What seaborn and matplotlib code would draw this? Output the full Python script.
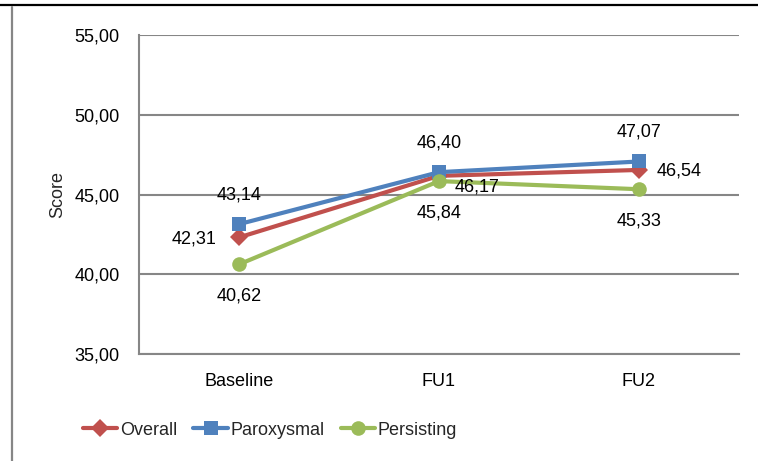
import matplotlib
matplotlib.use("Agg")
import matplotlib.pyplot as plt
from matplotlib.lines import Line2D
import seaborn as sns
import pandas as pd

# Scores per visit for each patient group
visits = ["Baseline", "FU1", "FU2"]
overall = [42.31, 46.17, 46.54]
paroxysmal = [43.14, 46.40, 47.07]
persisting = [40.62, 45.84, 45.33]
y_ticks = [35, 40, 45, 50, 55]

sns.set_theme(style="white")
plt.rcParams["font.family"] = ["Liberation Sans", "DejaVu Sans"]
FS = 13

fig = plt.figure(figsize=(7.58, 4.61), dpi=100)
ax = fig.add_axes([139 / 758, 1 - 354 / 461, 600 / 758, 319 / 461])

frames = []
for name, vals in [("Overall", overall), ("Paroxysmal", paroxysmal), ("Persisting", persisting)]:
    frames.append(pd.DataFrame({"Visit": visits, "Score": vals, "Group": name}))
df = pd.concat(frames, ignore_index=True)

styles = {
    "Overall": dict(color="#C0504D", marker="D", ms=9.5),
    "Paroxysmal": dict(color="#4F81BD", marker="s", ms=10),
    "Persisting": dict(color="#9BBB59", marker="o", ms=10.5),
}

def fmt(v):
    return f"{v:.2f}".replace(".", ",")

for name, st in styles.items():
    sub = df[df["Group"] == name]
    sns.lineplot(data=sub, x="Visit", y="Score", ax=ax, color=st["color"],
                 marker=st["marker"], markersize=st["ms"], markeredgewidth=0,
                 linewidth=3, label=name, legend=False, sort=False)

# Value labels: Paroxysmal above, Persisting below, Overall beside the point
for i, v in enumerate(paroxysmal):
    ax.annotate(fmt(v), (i, v), xytext=(0, 21), textcoords="offset points",
                ha="center", va="center", fontsize=FS, color="#000000")
for i, v in enumerate(persisting):
    ax.annotate(fmt(v), (i, v), xytext=(0, -23), textcoords="offset points",
                ha="center", va="center", fontsize=FS, color="#000000")
overall_offsets = [(-16, -1, "right"), (11, -8, "left"), (13, -1, "left")]
for i, v in enumerate(overall):
    dx, dy, ha = overall_offsets[i]
    ax.annotate(fmt(v), (i, v), xytext=(dx, dy), textcoords="offset points",
                ha=ha, va="center", fontsize=FS, color="#000000")

ax.set_xlim(-0.5, 2.5)
ax.set_ylim(35, 55)
ax.set_yticks(y_ticks)
ax.set_yticklabels([fmt(t) for t in y_ticks], fontsize=FS)
ax.set_xticks(range(len(visits)))
ax.set_xticklabels(visits, fontsize=FS)
ax.set_xlabel("")
ax.set_ylabel("Score", fontsize=FS, labelpad=6)
ax.tick_params(axis="y", length=0, pad=14, colors="#000000")
ax.tick_params(axis="x", length=0, pad=14, colors="#000000")

ax.yaxis.grid(True, color="#868686", linewidth=1.5)
ax.set_axisbelow(True)
for side in ["top", "right"]:
    ax.spines[side].set_visible(False)
for side in ["left", "bottom"]:
    ax.spines[side].set_color("#868686")
    ax.spines[side].set_linewidth(1.5)

handles = [Line2D([], [], color=st["color"], marker=st["marker"], markersize=st["ms"],
                  markeredgewidth=0, linewidth=3) for st in styles.values()]
fig.legend(handles, list(styles.keys()), loc="center", bbox_to_anchor=(270 / 758, 1 - 430 / 461),
           ncol=3, frameon=False, fontsize=FS, handlelength=1.9, handletextpad=0.15,
           columnspacing=0.9)

# Outer frame lines
fig.add_artist(Line2D([0, 1], [1 - 5.5 / 461] * 2, transform=fig.transFigure, color="black", linewidth=1.6))
fig.add_artist(Line2D([11.5 / 758] * 2, [0, 1 - 7 / 461], transform=fig.transFigure, color="#868686", linewidth=1.6))

fig.savefig("out.png", dpi=100)
